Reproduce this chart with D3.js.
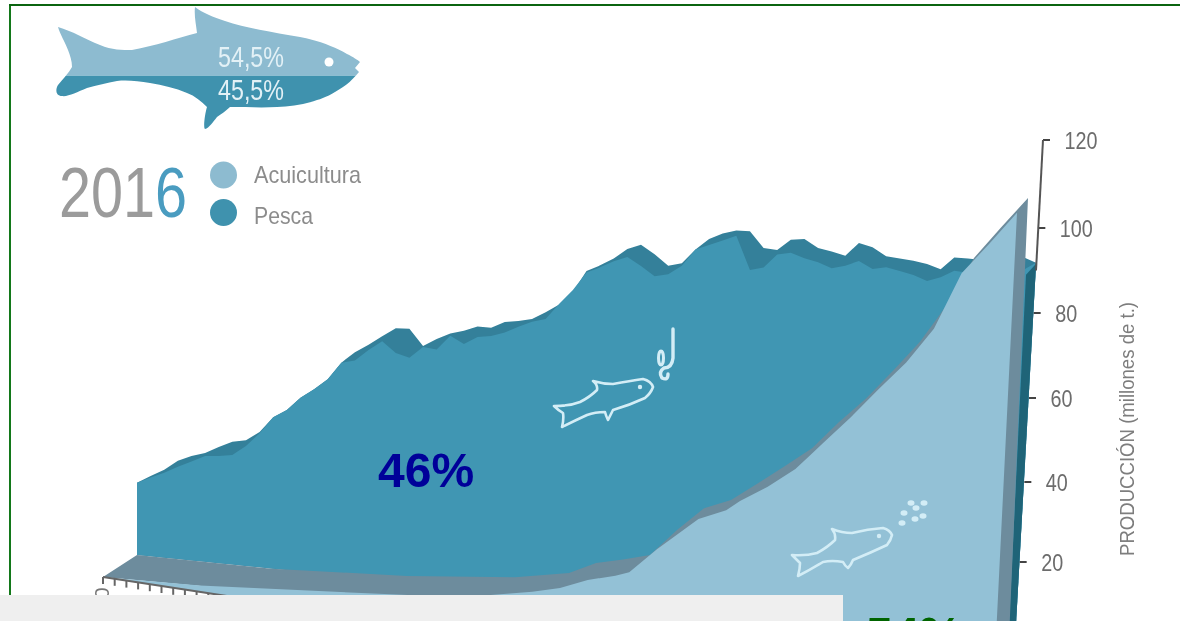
<!DOCTYPE html>
<html lang="es">
<head>
<meta charset="utf-8">
<title>Producción mundial de pesca y acuicultura</title>
<script src="https://cdn.jsdelivr.net/npm/d3@7/dist/d3.min.js"></script>
<style>
html,body{margin:0;padding:0;background:#fff;overflow:hidden;width:1180px;height:621px}
svg{display:block}
text{font-family:"Liberation Sans",sans-serif}
</style>
</head>
<body>
<svg id="chart" width="1180" height="621" viewBox="0 0 1180 621"></svg>
<script>
// ---------- values ----------
const pescaFrente = [19.5,21.3,22.9,24.8,26.5,28.3,28.6,29.2,31.9,35.6,40.1,42.3,45.8,48.3,51.2,55.8,56.6,59.6,62.1,59.3,58.3,61.3,60.9,64.7,62.8,64.8,65.3,66.4,68.1,69.6,70.5,74.6,78.3,82.9,84.4,86.1,87.4,85.3,82.9,83.6,85.9,90.1,91.4,92.7,94.0,85.7,86.5,89.9,90.5,89.3,88.5,87.2,88.0,89.3,87.5,88.1,87.4,86.6,85.3,86.4,88.1,87.8,88,88,88,89,91];
const pescaFondo = [19.5,21.7,23.7,26.4,28.0,29.1,31.0,32.7,33.4,35.9,40.1,42.3,45.8,48.3,51.2,55.8,58.8,61.0,63.4,65.7,65.8,61.6,63.6,65.3,66.2,67.5,67.4,69.1,69.6,70.3,72.2,74.4,77.8,83.3,84.9,86.8,89.4,90.6,88.4,85.7,86.5,90.1,92.9,94.4,95.3,95.3,91.3,91.0,93.7,94.0,92.0,91.3,90.4,93.7,92.8,90.8,90.4,90.0,89.4,88.3,91.3,91.2,91.0,91.6,91.7,92.3,91];
const acuiYears = [1950,1957,1972,1975,1978,1981,1983,1985,1987,1988,1990,1993,1995,1996,1998,2000,2002,2004,2006,2008,2010,2012,2014,2016];
const acuiFrente = [0,0,2.3,3.0,4.2,5.9,7.5,10.1,11.7,12.9,19.2,27.5,30.2,32.7,36.7,41.5,48.3,55.0,62.2,69,77.5,91.1,98.4,106];
const acuiFondoYears = [1950,1960,1970,1978,1982,1984,1986,1988,1990,1992,1994,1996,1998,2000,2002,2004,2006,2008,2010,2012,2014,2016];
const acuiFondo = [0,0,1.6,4.1,6.5,9.7,11.2,13,19.9,25.9,28.5,33.2,38,42.9,49.8,56,63.2,70.6,79.9,91.5,99.1,106.4];
const yTicks = [20,40,60,80,100,120];
const xTickYears = [1950,1951,1952,1953,1954,1955,1956,1957,1958,1959,1960,1961];
const fishShares = [54.5,45.5];
const legendNames = ["Acuicultura","Pesca"];
const pctLabels = ["46%","54%"];
const yTitle = "PRODUCCIÓN (millones de t.)";

// ---------- colours ----------
const cAcui="#93c1d6", cPesca="#4096b3", cPescaDark="#34809a", cGray="#6d8c9d", cSide="#1f6478";
const cLegA="#8dbbd0", cLegP="#3f92ae", cIcon="#d3edf6";

const svg=d3.select("#chart");
const defs=svg.append("defs");
const years=d3.range(1950,2017);
const yd=[1950,2016];

// ---------- scales (oblique planes) ----------
const k=d3.scaleLinear().domain(yd).range([3.7,4.2]);
const xP=d3.scaleLinear().domain(yd).range([137,1036]);
const baseP=d3.scaleLinear().domain(yd).range([555,645]);
const xAB=d3.scaleLinear().domain(yd).range([137,1028]);
const xAF=d3.scaleLinear().domain(yd).range([103,1017]);
const baseAF=d3.scaleLinear().domain(yd).range([577,658]);
const yAxisS=d3.scaleLinear().domain([0,20,40,60,80,100,120]).range([642,562,482,398,313,228,140]);
const axisX=d3.scaleLinear().domain([0,120]).range([1015,1043]);
const lean=v=>v*0.208;

const pescaArea=d3.area().x(d=>xP(d[0])).y0(d=>baseP(d[0])).y1(d=>baseP(d[0])-k(d[0])*d[1]);
const zip=(a,b)=>a.map((v,i)=>[v,b[i]]);
const line=d3.line();

// ---------- frame ----------
svg.append("rect").attr("x",9).attr("y",4).attr("width",2).attr("height",600).attr("fill","#13781a");
svg.append("rect").attr("x",9).attr("y",4).attr("width",1171).attr("height",2).attr("fill","#0b6410");

// soft group: the reference illustration is slightly out of focus
const art=svg.append("g").style("filter","blur(0.6px)");

// everything of the fishery wall stays left of the leaning value axis
defs.append("clipPath").attr("id","leftOfAxis").append("path").attr("d",line([
  [0,0],[axisX(120),0],[axisX(120),yAxisS(120)],[axisX(0),yAxisS(0)],[0,yAxisS(0)]
])+"Z");
const wall=art.append("g").attr("clip-path","url(#leftOfAxis)");

// ---------- Pesca ----------
wall.append("path").attr("d",pescaArea(zip(years,pescaFondo))).attr("fill",cPescaDark);
wall.append("path").attr("d",pescaArea(zip(years,pescaFrente))).attr("fill",cPesca);

// ---------- Pesca end side ----------
const endP=pescaFondo[pescaFondo.length-1];
const pTop=[xP(2016)+1,baseP(2016)-k(2016)*endP];
wall.append("path").attr("fill",cSide).attr("d",line([
  [pTop[0]-11,pTop[1]+12],pTop,[pTop[0]-lean(endP),baseP(2016)],[pTop[0]-lean(endP)-10,baseP(2016)]
]));

// ---------- Acuicultura top surface + end ----------
const backPts=zip(acuiFondoYears,acuiFondo).map(d=>[xAB(d[0]),baseP(d[0])-k(d[0])*d[1]]);
const endB=acuiFondo[acuiFondo.length-1];
art.append("path").attr("fill",cGray).attr("d",line([
  ...backPts,
  [xAB(2016)-lean(endB)*0.9,660],
  [xAF(1950),baseAF(1950)]
])+"Z");

// ---------- Acuicultura front ----------
const frontPts=zip(acuiYears,acuiFrente).map(d=>[xAF(d[0]),baseAF(d[0])-k(d[0])*d[1]]);
const endF=acuiFrente[acuiFrente.length-1];
art.append("path").attr("fill",cAcui).attr("d",line([
  ...frontPts,
  [xAF(2016)-lean(endF),baseAF(2016)],
  [xAF(1950),baseAF(2016)],
])+"Z");
// white under the first stretch of the front edge, below the year ticks
const xTickX=d3.scaleLinear().domain([1950,1960]).range([103,220]);
const xTickY=d3.scaleLinear().domain([1950,1960]).range([577,595]);
art.append("path").attr("fill","#fff").attr("d",line([
  [xTickX(1950)-2,xTickY(1950)],[xTickX(1961),xTickY(1961)],[xTickX(1961),621],[xTickX(1950)-2,621]
])+"Z");

// ---------- year ticks ----------
const xt=art.append("g").attr("stroke","#666").attr("stroke-width",2);
xt.append("line").attr("x1",xTickX(1950)).attr("y1",xTickY(1950)).attr("x2",xTickX(1961)).attr("y2",xTickY(1961));
xt.selectAll("line.t").data(xTickYears).join("line").attr("class","t")
  .attr("x1",d=>xTickX(d)).attr("x2",d=>xTickX(d)).attr("y1",d=>xTickY(d)).attr("y2",d=>xTickY(d)+7);
art.append("text").attr("transform","translate(109,634) rotate(-90)").attr("font-size",21).attr("fill","#777").text("1950");

// ---------- value axis ----------
const ax=art.append("g").call(d3.axisRight(yAxisS).tickValues(yTicks).tickSize(7).tickFormat(d3.format("d")));
ax.select(".domain").remove();
ax.selectAll(".tick").attr("transform",d=>`translate(${axisX(d)},${yAxisS(d)})`);
ax.selectAll(".tick line").attr("stroke","#444").attr("stroke-width",2);
ax.selectAll(".tick text").attr("x",21.5).attr("dy","0.36em").attr("font-size",24)
  .attr("font-family",'"Liberation Sans"').attr("fill","#6c6c6c")
  .attr("textLength",d=>d>=100?33:22).attr("lengthAdjust","spacingAndGlyphs");
art.append("line").attr("x1",axisX(120)).attr("y1",yAxisS(120)).attr("x2",axisX(90)).attr("y2",yAxisS(90))
  .attr("stroke","#555").attr("stroke-width",2);

art.append("text").attr("transform","translate(1134,556) rotate(-90)").attr("font-size",20.5)
  .attr("fill","#7d7d7d").attr("textLength",254).attr("lengthAdjust","spacingAndGlyphs").text(yTitle);

// ---------- logo fish split by share ----------
const fishPath="M58,27 C72,31 85,39 100,45 C112,50 122,50 132,50 C155,46 177,38 197,33 C196,24 194,15 195,7 C203,13 213,17 225,21 C245,28 272,32 300,37 C320,41 335,47 347,54 C353,57 358,60 360,62 L355,68 L359,72 C354,78 348,84 343,87 C332,94 325,98 317,100 C303,105 290,106 277,107 C262,108 245,107 230,107 C226,111 221,114 217,117 C213,122 209,128 205,129 C203,128 205,113 207,107 C201,101 195,96 187,93 C175,88 163,85 150,83 C138,81 127,80 117,81 C107,83 97,85 87,88 C77,92 68,97 62,96 C56,96 55,90 58,85 C62,80 68,74 72,67 C72,61 70,55 68,50 C65,42 60,34 58,27 Z";
const shareY=d3.scaleLinear().domain([0,100]).range([5,135]);
const splitY=shareY(fishShares[0]);
defs.append("clipPath").attr("id","fishTop").append("rect").attr("x",40).attr("y",0).attr("width",340).attr("height",splitY);
defs.append("clipPath").attr("id","fishBot").append("rect").attr("x",40).attr("y",splitY).attr("width",340).attr("height",80);
art.append("path").attr("d",fishPath).attr("fill",cLegA).attr("clip-path","url(#fishTop)");
art.append("path").attr("d",fishPath).attr("fill",cLegP).attr("clip-path","url(#fishBot)");
art.append("circle").attr("cx",329).attr("cy",62).attr("r",4.5).attr("fill","#fff");
const fmtShare=d=>String(d).replace(".",",")+"%";
art.selectAll("text.share").data(fishShares).join("text").attr("class","share")
  .attr("x",218).attr("y",(d,i)=>[67,100][i]).attr("font-size",29)
  .attr("textLength",66).attr("lengthAdjust","spacingAndGlyphs")
  .attr("fill","#e3f1f6").text(fmtShare);

// ---------- year + legend ----------
const yearText=art.append("text").attr("x",59).attr("y",217).attr("font-size",70)
  .attr("textLength",128).attr("lengthAdjust","spacingAndGlyphs");
yearText.append("tspan").attr("fill","#9b9b9b").text("201");
yearText.append("tspan").attr("fill","#4a9cc0").text("6");
art.selectAll("circle.leg").data(legendNames).join("circle").attr("class","leg")
  .attr("cx",223.5).attr("cy",(d,i)=>[175,212.5][i]).attr("r",13.5).attr("fill",(d,i)=>[cLegA,cLegP][i]);
art.selectAll("text.leg").data(legendNames).join("text").attr("class","leg")
  .attr("x",254).attr("y",(d,i)=>[183,224][i]).attr("font-size",24).attr("fill","#8c8c8c")
  .attr("textLength",(d,i)=>[107,59][i]).attr("lengthAdjust","spacingAndGlyphs").text(d=>d);

// ---------- outline fish icons ----------
const icons=art.append("g").attr("fill","none").attr("stroke",cIcon).attr("stroke-width",2.6).attr("stroke-linejoin","round").attr("stroke-linecap","round");
icons.append("path").attr("d","M554,406 Q570,406 580,402 Q590,397 597,390 Q598,385 593,381 Q603,384 613,384 Q630,381 643,379 Q651,381 653,387 Q651,393 645,398 Q630,405 613,410 Q610,416 608,420 Q606,416 605,412 Q595,412 587,415 Q574,421 562,427 Q564,419 563,413 Q558,410 554,406 Z");
icons.append("path").attr("d","M792,555 Q806,556 817,553 Q828,547 835,540 Q836,534 832,529 Q842,533 852,533 Q868,529 883,528 Q890,530 892,535 Q891,540 887,545 Q870,553 853,560 Q851,565 848,568 Q845,566 843,562 Q832,560 823,562 Q810,570 798,576 Q800,569 800,563 Q796,559 792,555 Z");
icons.append("path").attr("stroke-width",3.4).attr("d","M673,329 L673,358 Q672,368 664,368 Q658,372 662,378 Q668,381 668,374");
icons.append("ellipse").attr("cx",661).attr("cy",358).attr("rx",2.5).attr("ry",7).attr("stroke-width",3);
art.append("g").attr("fill",cIcon).selectAll("circle").data([[640,387],[879,536]]).join("circle")
  .attr("cx",d=>d[0]).attr("cy",d=>d[1]).attr("r",2.2);
art.append("g").attr("fill",cIcon).selectAll("ellipse")
  .data([[911,503],[924,503],[916,508],[904,513],[915,519],[923,516],[902,523]]).join("ellipse")
  .attr("cx",d=>d[0]).attr("cy",d=>d[1]).attr("rx",3.5).attr("ry",2.8);

// ---------- overlay ----------
svg.append("text").attr("x",378).attr("y",487).attr("font-size",48).attr("font-weight","bold")
  .attr("fill","#000099").text(pctLabels[0]);
svg.append("rect").attr("x",0).attr("y",595).attr("width",843).attr("height",26).attr("fill","#efefef");
svg.append("text").attr("x",866).attr("y",651).attr("font-size",48).attr("font-weight","bold")
  .attr("fill","#006400").text(pctLabels[1]);
</script>
</body>
</html>
